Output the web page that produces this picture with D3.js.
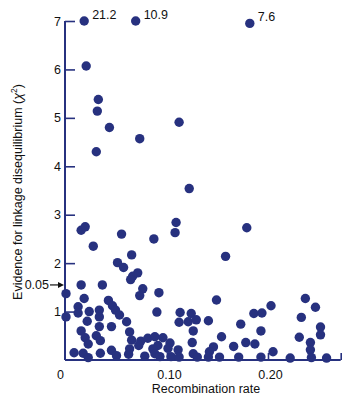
<!DOCTYPE html>
<html><head><meta charset="utf-8">
<script src="https://cdn.jsdelivr.net/npm/d3@7/dist/d3.min.js"></script>
<style>body{margin:0;background:#fff}svg{display:block}text{font-family:"Liberation Sans",Arial,sans-serif}</style>
</head><body><svg id="c" width="360" height="403"></svg>
<script>
const recombRate = [0.018,0.069,0.182,0.020,0.032,0.031,0.043,0.073,0.030,0.112,0.122,0.109,0.108,0.179,0.015,0.019,0.055,0.087,0.027,0.065,0.158,0.051,0.057,0.071,0.066,0.064,0.015,0.036,0.076,0.073,0.092,0.000,0.018,0.042,0.046,0.049,0.053,0.149,0.237,0.203,0.247,0.012,0.012,0.023,0.033,0.033,0.000,0.021,0.060,0.090,0.113,0.124,0.112,0.121,0.129,0.141,0.173,0.186,0.194,0.233,0.252,0.252,0.033,0.045,0.015,0.063,0.126,0.193,0.019,0.022,0.030,0.034,0.065,0.074,0.081,0.088,0.096,0.072,0.091,0.103,0.101,0.154,0.231,0.125,0.178,0.187,0.166,0.146,0.242,0.242,0.205,0.111,0.142,0.008,0.017,0.022,0.034,0.045,0.050,0.063,0.062,0.078,0.086,0.088,0.093,0.104,0.112,0.126,0.130,0.141,0.152,0.171,0.193,0.222,0.243,0.258];
const chiSquare = [7.0,7.0,6.95,6.07,5.38,5.14,4.80,4.57,4.30,4.91,3.54,2.84,2.63,2.73,2.68,2.75,2.60,2.50,2.35,2.17,2.14,2.01,1.91,1.80,1.73,1.66,1.55,1.55,1.47,1.33,1.39,1.37,1.27,1.23,1.12,1.03,0.93,1.24,1.27,1.12,1.09,1.10,0.97,1.00,1.03,0.89,0.89,0.80,0.79,0.99,0.98,0.96,0.78,0.79,0.83,0.81,0.74,0.96,0.97,0.88,0.68,0.52,0.69,0.69,0.60,0.58,0.60,0.60,0.46,0.33,0.50,0.40,0.41,0.39,0.45,0.48,0.46,0.30,0.30,0.35,0.24,0.48,0.47,0.36,0.36,0.33,0.28,0.27,0.36,0.21,0.17,0.21,0.17,0.15,0.14,0.05,0.14,0.20,0.09,0.23,0.12,0.08,0.23,0.13,0.07,0.07,0.06,0.13,0.06,0.06,0.06,0.06,0.06,0.04,0.05,0.04];
const offScaleIdx = [0,1,2];
const offScaleLabels = ["21.2","10.9","7.6"];
const xTicks = [0,0.10,0.20,0.272];
const xTickLabels = ["0","0.10","0.20",""];
const yTicks = [1,2,3,4,5,6,7];
const markValue = 1.55, markLabel = "0.05";

const col = "#27317f";
const svg = d3.select("#c");
const x = d3.scaleLinear().domain([0,0.272]).range([66,340.7]);
const y = d3.scaleLinear().domain([0,7]).range([360,21]);

// x axis
const xa = svg.append("g").attr("transform",`translate(0,${y(0)})`)
  .call(d3.axisBottom(x).tickValues(xTicks).tickSize(0).tickPadding(10)
    .tickFormat((d,i)=>xTickLabels[i]));
xa.select(".domain").attr("stroke",col).attr("stroke-width",2).attr("d",`M${x(0)-1},0H${x(0.272)}`);
xa.selectAll(".tick text").attr("font-size",12.5).attr("fill","#111")
  .attr("dx",(d,i)=>i===0?-6:2);
xa.selectAll(".tick").filter(d=>d>0).append("line").attr("y1",0).attr("y2",-7).attr("stroke",col).attr("stroke-width",1.6);

// y axis
const ya = svg.append("g").attr("transform",`translate(${x(0)-1},0)`)
  .call(d3.axisLeft(y).tickValues(yTicks).tickSize(0).tickPadding(4).tickFormat(d3.format("d")));
ya.select(".domain").attr("stroke",col).attr("stroke-width",2).attr("d",`M0,${y(7)}V${y(0)}`);
ya.selectAll(".tick text").attr("font-size",12.5).attr("fill","#111");
ya.selectAll(".tick").append("line").attr("x1",0).attr("x2",10).attr("stroke",col).attr("stroke-width",1.6);

// 0.05 marker
svg.append("text").attr("x",49).attr("y",y(markValue)).attr("dy","0.35em").attr("text-anchor","end")
  .attr("font-size",12.5).attr("fill","#111").text(markLabel);
svg.append("line").attr("x1",50).attr("x2",59).attr("y1",y(markValue)).attr("y2",y(markValue)).attr("stroke","#111").attr("stroke-width",1.2);
svg.append("path").attr("d",`M58,${y(markValue)-3}L64,${y(markValue)}L58,${y(markValue)+3}Z`).attr("fill","#111");

// dots
svg.append("g").selectAll("circle").data(recombRate.map((r,i)=>[r,chiSquare[i]])).join("circle")
  .attr("cx",d=>x(d[0])).attr("cy",d=>y(d[1])).attr("r",4.7).attr("fill",col);

// off-scale labels
svg.append("g").selectAll("text").data(offScaleIdx).join("text")
  .attr("x",i=>x(recombRate[i])+8).attr("y",i=>y(chiSquare[i])-2)
  .attr("font-size",12.5).attr("fill","#111").text((i,k)=>offScaleLabels[k]);

// titles
svg.append("text").attr("x",206).attr("y",393).attr("text-anchor","middle").attr("font-size",12.5).attr("fill","#111").text("Recombination rate");
const yt = svg.append("text").attr("transform","translate(22,192) rotate(-90)").attr("text-anchor","middle").attr("font-size",12.5).attr("fill","#111");
yt.append("tspan").text("Evidence for linkage disequilibrium (");
yt.append("tspan").attr("font-style","italic").text("χ");
yt.append("tspan").attr("font-size",8.5).attr("dy",-5).text("2");
yt.append("tspan").attr("dy",5).text(")");
</script></body></html>
